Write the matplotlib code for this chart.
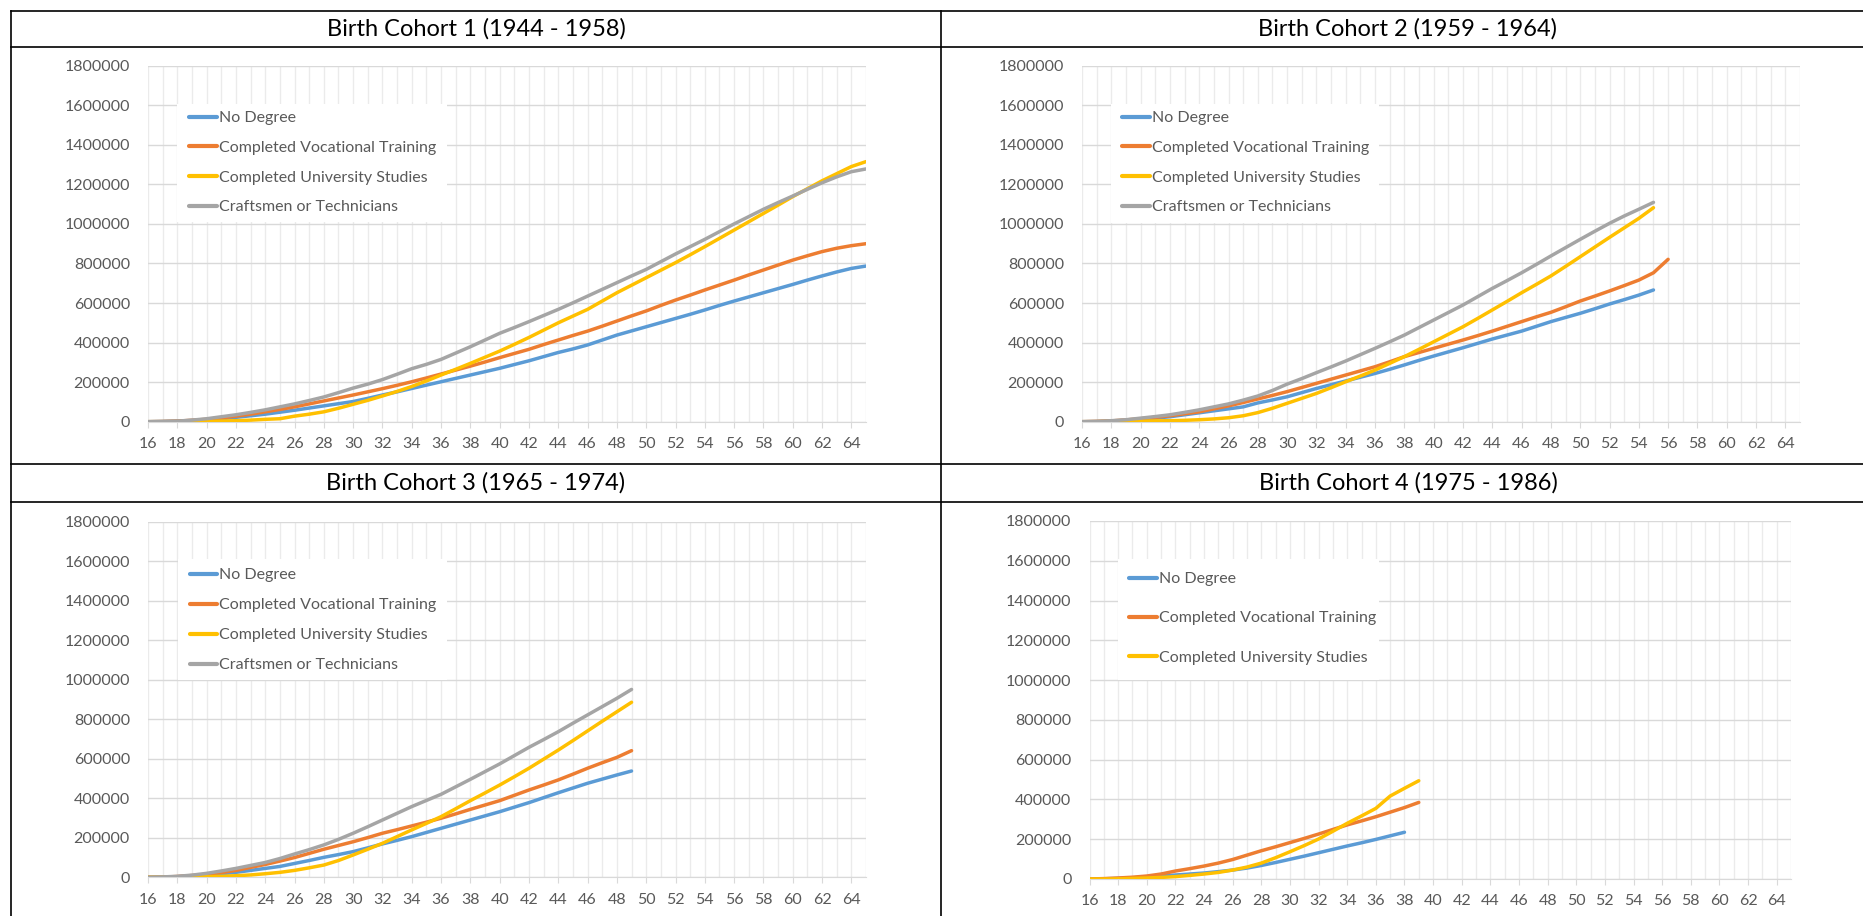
import matplotlib
matplotlib.use('Agg')
import matplotlib.pyplot as plt
from matplotlib.lines import Line2D
from matplotlib.patches import Rectangle

plt.rcParams['font.family'] = ['Lato', 'DejaVu Sans']

ages = list(range(16, 66))
series_names = ['No Degree', 'Completed Vocational Training',
                'Completed University Studies', 'Craftsmen or Technicians']
series_colors = ['#5B9BD5', '#ED7D31', '#FFC000', '#A5A5A5']
titles = ['Birth Cohort 1 (1944 - 1958)', 'Birth Cohort 2 (1959 - 1964)',
          'Birth Cohort 3 (1965 - 1974)', 'Birth Cohort 4 (1975 - 1986)']
y_ticks = list(range(0, 1800001, 200000))
x_ticks = list(range(16, 65, 2))

# cohort 1, ages 16-65
c1_no_degree = [0, 1000, 3000, 6000, 10000, 15000, 22000, 30000, 38000, 48000,
                58000, 69000, 80000, 91000, 102000, 118000, 135000, 151000, 168000, 185000,
                202000, 219000, 236000, 253000, 270000, 289000, 308000, 329000, 350000, 368000,
                388000, 413000, 438000, 459000, 480000, 501000, 522000, 543000, 565000, 588000,
                610000, 631000, 652000, 673000, 694000, 716000, 737000, 757000, 775000, 787000]
c1_vocational = [0, 1000, 3000, 7000, 12000, 19000, 28000, 38000, 50000, 62000,
                 75000, 90000, 105000, 120000, 135000, 151000, 167000, 184000, 202000, 221000,
                 241000, 261000, 281000, 302000, 324000, 345000, 366000, 390000, 413000, 436000,
                 458000, 483000, 509000, 535000, 560000, 588000, 615000, 640000, 666000, 691000,
                 716000, 742000, 767000, 792000, 817000, 839000, 860000, 877000, 890000, 900000]
c1_university = [0, 0, 0, 1000, 2000, 3000, 5000, 8000, 12000, 15000,
                 28000, 38000, 50000, 68000, 88000, 108000, 130000, 153000, 178000, 206000,
                 236000, 265000, 295000, 326000, 357000, 391000, 426000, 463000, 500000, 534000,
                 568000, 610000, 652000, 690000, 728000, 766000, 804000, 844000, 885000, 927000,
                 969000, 1011000, 1053000, 1095000, 1138000, 1178000, 1218000, 1254000, 1290000, 1315000]
c1_craftsmen = [0, 1000, 3000, 8000, 15000, 25000, 35000, 47000, 60000, 75000,
                90000, 107000, 125000, 147000, 170000, 190000, 213000, 240000, 268000, 290000,
                315000, 347000, 379000, 413000, 447000, 476000, 506000, 537000, 568000, 601000,
                635000, 669000, 703000, 737000, 770000, 809000, 848000, 885000, 922000, 961000,
                1000000, 1037000, 1074000, 1108000, 1141000, 1175000, 1208000, 1238000, 1264000, 1278000]

# cohort 2, ages 16-55 (vocational to 56)
c2_no_degree = [0, 1000, 3000, 7000, 12000, 18000, 25000, 35000, 45000, 55000,
                65000, 75000, 95000, 110000, 126000, 147000, 168000, 187000, 206000, 225000,
                244000, 265000, 287000, 310000, 332000, 353000, 374000, 396000, 418000, 438000,
                458000, 482000, 506000, 527000, 548000, 571000, 595000, 617000, 640000, 666000]
c2_vocational = [0, 1500, 4000, 9000, 15000, 22000, 30000, 40000, 50000, 65000,
                 80000, 97000, 115000, 133000, 152000, 173000, 194000, 215000, 236000, 257000,
                 278000, 303000, 329000, 350000, 371000, 392000, 413000, 435000, 458000, 482000,
                 506000, 530000, 553000, 581000, 610000, 635000, 661000, 688000, 716000, 753000,
                 821000]
c2_university = [0, 0, 1000, 2000, 3000, 4000, 5000, 7000, 10000, 14000,
                 20000, 30000, 46000, 68000, 93000, 118000, 143000, 172000, 202000, 231000,
                 261000, 295000, 329000, 366000, 404000, 442000, 480000, 522000, 565000, 608000,
                 652000, 694000, 737000, 785000, 834000, 883000, 932000, 980000, 1028000, 1082000]
c2_craftsmen = [0, 1000, 5000, 10000, 18000, 26000, 35000, 47000, 60000, 75000,
                90000, 109000, 130000, 158000, 190000, 218000, 248000, 277000, 307000, 339000,
                371000, 404000, 438000, 476000, 514000, 552000, 590000, 632000, 674000, 713000,
                753000, 795000, 838000, 880000, 922000, 963000, 1003000, 1040000, 1074000, 1109000]

# cohort 3, ages 16-49
c3_no_degree = [0, 1000, 3000, 7000, 12000, 18000, 25000, 35000, 45000, 55000,
                70000, 85000, 101000, 115000, 130000, 149000, 169000, 187000, 206000, 227000,
                248000, 269000, 290000, 311000, 332000, 355000, 378000, 403000, 428000, 452000,
                476000, 497000, 518000, 538000]
c3_vocational = [0, 1000, 4000, 9000, 15000, 24000, 35000, 50000, 65000, 82000,
                 100000, 121000, 142000, 161000, 180000, 201000, 223000, 241000, 260000, 279000,
                 299000, 321000, 344000, 366000, 388000, 415000, 442000, 467000, 493000, 522000,
                 552000, 580000, 607000, 641000]
c3_university = [0, 0, 1000, 2000, 3000, 5000, 8000, 12000, 18000, 25000,
                 35000, 48000, 62000, 85000, 113000, 142000, 172000, 206000, 240000, 273000,
                 307000, 347000, 388000, 427000, 467000, 509000, 552000, 598000, 644000, 692000,
                 741000, 790000, 838000, 886000]
c3_craftsmen = [0, 2000, 5000, 11000, 20000, 32000, 45000, 60000, 75000, 95000,
                118000, 140000, 164000, 192000, 223000, 256000, 290000, 324000, 358000, 389000,
                420000, 458000, 496000, 535000, 574000, 616000, 658000, 697000, 737000, 780000,
                822000, 864000, 906000, 951000]

# cohort 4, ages 16-38 / 16-39
c4_no_degree = [0, 1000, 3000, 6000, 10000, 15000, 20000, 25000, 30000, 37000,
                45000, 55000, 68000, 83000, 99000, 115000, 132000, 149000, 166000, 182000,
                199000, 217000, 235000]
c4_vocational = [0, 2000, 5000, 9000, 15000, 25000, 40000, 52000, 65000, 80000,
                 98000, 120000, 142000, 162000, 183000, 204000, 226000, 249000, 272000, 292000,
                 313000, 336000, 359000, 385000]
c4_university = [0, 0, 1000, 3000, 5000, 8000, 12000, 18000, 25000, 33000,
                 45000, 60000, 80000, 107000, 137000, 168000, 201000, 240000, 280000, 317000,
                 355000, 417000, 456000, 494000]

cohorts = [
    [c1_no_degree, c1_vocational, c1_university, c1_craftsmen],
    [c2_no_degree, c2_vocational, c2_university, c2_craftsmen],
    [c3_no_degree, c3_vocational, c3_university, c3_craftsmen],
    [c4_no_degree, c4_vocational, c4_university],
]

W, H = 1863, 916
fig = plt.figure(figsize=(W / 100, H / 100), dpi=100)


def fx(x):
    return x / W


def fy(y):
    return 1 - y / H


# layout in pixels (top-left origin)
axes_px = [(148, 65.7, 866, 421.7), (1082, 65.7, 1800, 421.7),
           (148, 521.7, 866, 877.3), (1089.5, 521, 1791, 879)]
legend_box_px = [(177, 104, 447, 222), (1111, 104, 1379, 223),
                 (178, 559, 447, 680), (1118, 559, 1379, 680)]
legend_first_px = [(189, 119), (1122, 119), (189.5, 576), (1129, 580)]
legend_step_px = [31.5, 31.5, 31.8, 41]
title_px = [(476, 28.6), (1408, 28.6), (476, 483), (1408, 483)]

legend_fs = 11.5
for i, series in enumerate(cohorts):
    x0, y0, x1, y1 = axes_px[i]
    ax = fig.add_axes([fx(x0), fy(y1), (x1 - x0) / W, (y1 - y0) / H])
    ax.set_axisbelow(True)
    for vals, name, col in zip(series, series_names, series_colors):
        ax.plot(ages[:len(vals)], vals, color=col, lw=2.5, label=name,
                solid_capstyle='round', zorder=3)
    ax.set_xlim(16, 65)
    ax.set_ylim(0, 1800000)
    ax.set_xticks(x_ticks)
    ax.set_xticks(ages, minor=True)
    ax.set_yticks(y_ticks)
    ax.set_yticklabels([str(v) for v in y_ticks])
    ax.grid(axis='x', which='both', color='#EBEBEB', lw=1.0)
    ax.grid(axis='y', which='major', color='#D9D9D9', lw=1.0)
    for s in ['top', 'right', 'left']:
        ax.spines[s].set_visible(False)
    ax.spines['bottom'].set_color('#D9D9D9')
    ax.tick_params(axis='x', which='major', length=4, color='#D9D9D9',
                   labelcolor='#595959', labelsize=11.5, pad=7)
    ax.tick_params(axis='x', which='minor', length=0)
    ax.tick_params(axis='y', length=0, labelcolor='#595959', labelsize=11.5, pad=13)

    # white legend backdrop
    bx0, by0, bx1, by1 = legend_box_px[i]
    ax.add_patch(Rectangle((fx(bx0), fy(by1)), (bx1 - bx0) / W, (by1 - by0) / H,
                           transform=fig.transFigure, facecolor='white',
                           edgecolor='none', zorder=1.5, clip_on=False))
    lx, ly = legend_first_px[i]
    step = legend_step_px[i]
    row_h = legend_fs * 1.39
    leg = ax.legend(loc='upper left', bbox_to_anchor=(fx(lx), fy(ly - row_h / 2)),
                    bbox_transform=fig.transFigure, frameon=False, borderpad=0,
                    borderaxespad=0, fontsize=legend_fs, handlelength=1.75,
                    handletextpad=0.1, labelspacing=(step - row_h) / (legend_fs * 1.389),
                    labelcolor='#595959')
    for h in leg.get_lines():
        h.set_linewidth(3.0)
    leg.set_zorder(5)

    tx, ty = title_px[i]
    fig.text(fx(tx), fy(ty), titles[i], ha='center', va='center', fontsize=17,
             color='black')

# table borders
lw = 1.2
for yy in [10.5, 46.7, 464.3, 502.3]:
    fig.add_artist(Line2D([fx(11), 1], [fy(yy), fy(yy)], color='black', lw=lw))
for xx in [11, 941]:
    fig.add_artist(Line2D([fx(xx), fx(xx)], [fy(10.5), 0], color='black', lw=lw))

fig.savefig('out.png', dpi=100)
